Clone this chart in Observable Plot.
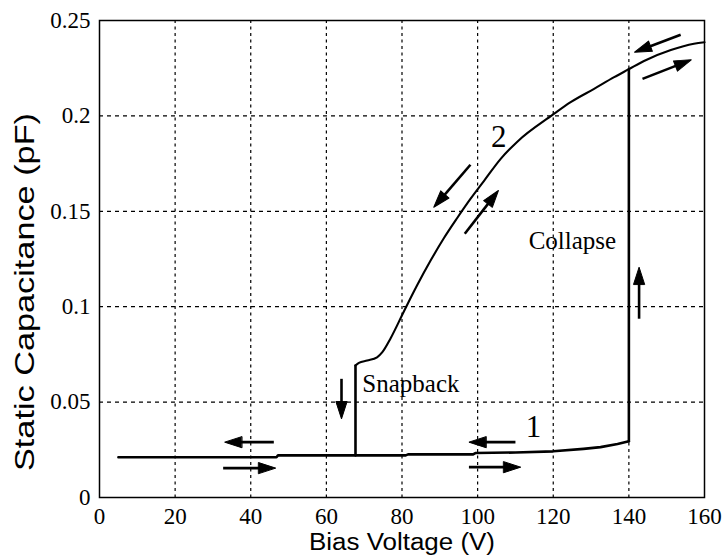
<!DOCTYPE html>
<html><head><meta charset="utf-8">
<script src="https://cdn.jsdelivr.net/npm/d3@7"></script>
<script src="https://cdn.jsdelivr.net/npm/@observablehq/plot@0.6"></script>
<style>body{margin:0;background:#fff}</style>
</head><body><div id="chart"></div>
<script>
// ---- data ----
const xTicks = [0, 20, 40, 60, 80, 100, 120, 140, 160];
const yTicks = [0, 0.05, 0.1, 0.15, 0.2, 0.25];
const xLabel = "Bias Voltage (V)";
const yLabel = "Static Capacitance (pF)";

// branch 1 (up-sweep, before collapse)
const lowerV = [5, 46.8, 47.2, 81, 81.6, 98.8, 99.4, 110, 120, 128, 132.5, 137, 140];
const lowerC = [0.0211, 0.0211, 0.0221, 0.0221, 0.0226, 0.0226, 0.0233, 0.0236, 0.0242, 0.0255, 0.0264, 0.0280, 0.0295];
// branch 2 (collapsed)
const upperV = [67.7, 68.6, 70.8, 73.4, 74.8, 77.0, 80.5, 84.0, 87.6, 91.1, 94.6, 98.1, 101.7, 106.1, 110.5, 119.8, 124.6, 130.8, 136.1, 140, 144, 151.1, 157.2, 160];
const upperC = [0.0692, 0.0706, 0.0718, 0.0735, 0.0762, 0.0835, 0.0975, 0.1112, 0.1243, 0.136, 0.1465, 0.1565, 0.166, 0.1775, 0.1865, 0.2005, 0.2072, 0.2142, 0.2203, 0.2245, 0.2288, 0.2345, 0.2378, 0.2386];
// jumps
const snapV = [67.7, 67.7];
const snapC = [0.0221, 0.0692];
const collapseV = [140, 140];
const collapseC = [0.0295, 0.2245];

// direction arrows (tail -> tip)
const arrowX1 = [46.1, 32.7, 110, 97.7, 64.0, 142.7, 98.1, 96.6, 153.7, 143.6];
const arrowY1 = [0.029, 0.0154, 0.029, 0.0159, 0.0622, 0.0937, 0.1744, 0.1382, 0.2425, 0.2194];
const arrowX2 = [33.1, 46.6, 97.7, 111.4, 64.0, 142.7, 88.4, 105.5, 141.5, 156.5];
const arrowY2 = [0.029, 0.0154, 0.029, 0.0159, 0.0412, 0.1207, 0.1521, 0.1609, 0.2334, 0.2294];

// annotations
const numText = ["2", "1"];
const numX = [105.6, 114.8];
const numY = [0.1836, 0.0316];
const wordText = ["Snapback", "Collapse"];
const wordX = [69.5, 113.5];
const wordY = [0.0552, 0.1303];

// ---- layout ----
const layout = {
  width: 725, height: 556,
  marginLeft: 99, marginRight: 21, marginTop: 20, marginBottom: 59,
  x: {domain: [0, 160]},
  y: {domain: [0, 0.25]},
  style: {fontFamily: "Liberation Serif", fontSize: "23px", background: "white", color: "black"}
};

// first pass to obtain scales for arrow-head orientation
const p0 = Plot.plot({...layout, marks: [Plot.frame()]});
const sx = p0.scale("x"), sy = p0.scale("y");
const HEAD = 17;
const arrows = arrowX1.map((x1, i) => {
  const X1 = sx.apply(x1), Y1 = sy.apply(arrowY1[i]);
  const X2 = sx.apply(arrowX2[i]), Y2 = sy.apply(arrowY2[i]);
  const dx = X2 - X1, dy = Y2 - Y1, L = Math.hypot(dx, dy);
  const k = (L - HEAD * 0.7) / L;
  return {
    x1, y1: arrowY1[i], x2: arrowX2[i], y2: arrowY2[i],
    xe: sx.invert(X1 + dx * k), ye: sy.invert(Y1 + dy * k),
    angle: Math.atan2(dx, -dy) * 180 / Math.PI
  };
});

const spike = {
  draw(context, l, r) {
    context.moveTo(-r, 0);
    context.lineTo(0, -l);
    context.lineTo(r, 0);
    context.closePath();
  }
};

const tickFont = {fontFamily: "Liberation Serif", fontSize: 23, fill: "black"};
const fmt = d => String(d);

const plot = Plot.plot({
  ...layout,
  marks: [
    Plot.gridX(xTicks.slice(1, -1), {stroke: "black", strokeOpacity: 1, strokeWidth: 1.2, strokeDasharray: "3,3.5"}),
    Plot.gridY(yTicks.slice(1, -1), {stroke: "black", strokeOpacity: 1, strokeWidth: 1.2, strokeDasharray: "4,4"}),
    Plot.axisX({ticks: xTicks, tickSize: 0, tickPadding: 10, label: null, tickFormat: fmt, ...tickFont}),
    Plot.axisY({ticks: yTicks, tickSize: 0, tickPadding: 9, label: null, tickFormat: fmt, ...tickFont}),
    Plot.frame({stroke: "black", strokeWidth: 1.5}),
    Plot.line(lowerV, {x: lowerV, y: lowerC, stroke: "black", strokeWidth: 2.6}),
    Plot.line(snapV, {x: snapV, y: snapC, stroke: "black", strokeWidth: 2.6}),
    Plot.line(collapseV, {x: collapseV, y: collapseC, stroke: "black", strokeWidth: 2.6}),
    Plot.line(upperV, {x: upperV, y: upperC, stroke: "black", strokeWidth: 2.1, curve: "monotone-x"}),
    Plot.link(arrows, {x1: "x1", y1: "y1", x2: "xe", y2: "ye", stroke: "black", strokeWidth: 2.6}),
    Plot.vector(arrows, {x: "x2", y: "y2", rotate: "angle", length: HEAD, r: 5.5, anchor: "end", shape: spike, fill: "black", stroke: "black", strokeWidth: 1}),
    Plot.text(numText, {x: numX, y: numY, text: numText, fontSize: 31, fontFamily: "Liberation Serif", lineAnchor: "bottom", textAnchor: "middle", fill: "black"}),
    Plot.text(wordText, {x: wordX, y: wordY, text: wordText, fontSize: 25, fontFamily: "Liberation Serif", lineAnchor: "bottom", textAnchor: "start", fill: "black"}),
    Plot.text([xLabel], {frameAnchor: "bottom", text: d => d, textAnchor: "middle", lineAnchor: "bottom", dy: 52, fontSize: 23, fontFamily: "Liberation Sans", fill: "black"}),
    Plot.text([yLabel], {frameAnchor: "left", text: d => d, rotate: -90, textAnchor: "middle", lineAnchor: "bottom", dx: -66, dy: 33, fontSize: 28, fontFamily: "Liberation Sans", fill: "black"})
  ]
});

const tickStrings = new Set([...xTicks, ...yTicks].map(fmt));
const svg = d3.select(plot);
svg.selectAll("text").each(function() {
  const t = this.textContent;
  const s = d3.select(this);
  if (tickStrings.has(t)) {
    s.attr("font-family", "Liberation Serif").attr("font-size", 23)
     .style("font-family", "'Liberation Serif', serif").style("font-size", "23px");
  }
  if (t === yLabel) s.attr("textLength", 358).attr("lengthAdjust", "spacingAndGlyphs");
  if (t === xLabel) s.attr("textLength", 186).attr("lengthAdjust", "spacingAndGlyphs");
});

document.getElementById("chart").appendChild(plot);
</script>
</body></html>
